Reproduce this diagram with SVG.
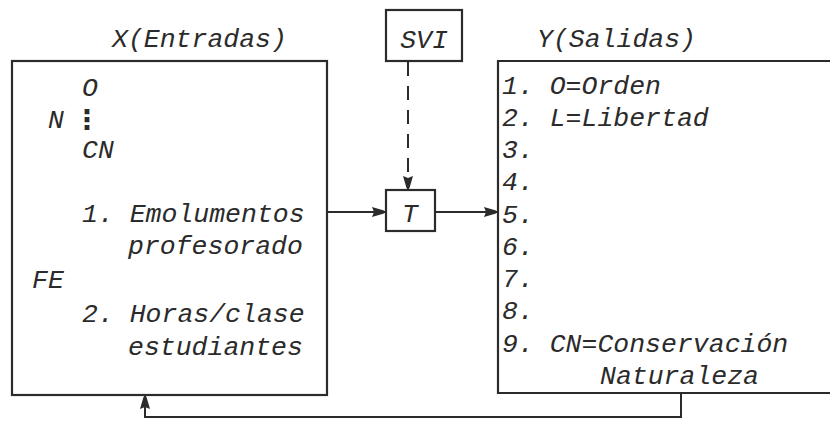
<svg xmlns="http://www.w3.org/2000/svg" width="830" height="421" viewBox="0 0 830 421">
<defs>
<style>
.box{fill:none;stroke:#2b2b2b;stroke-width:2.2}
.ln{fill:none;stroke:#2b2b2b;stroke-width:2}
.t{font-family:"Liberation Mono","DejaVu Sans Mono",monospace;font-style:italic;font-size:26.5px;fill:#2b2b2b}
.d{font-family:"DejaVu Sans",sans-serif;font-weight:bold;font-size:27px;fill:#2b2b2b}
</style>
<marker id="ah" viewBox="0 0 14 12" refX="13" refY="6" markerWidth="14" markerHeight="12" markerUnits="userSpaceOnUse" orient="auto">
<path d="M0,1 L12,4.5 L13,6 L12,7.5 L0,11 L2,6 Z" fill="#2b2b2b"/>
</marker>
</defs>
<rect width="830" height="421" fill="#ffffff"/>
<g id="connectors">
<line class="ln" x1="327" y1="212" x2="385" y2="212" marker-end="url(#ah)"/>
<line class="ln" x1="435" y1="212" x2="497" y2="212" marker-end="url(#ah)"/>
<line class="ln" x1="408" y1="62" x2="408" y2="189" stroke-width="2.4" stroke-dasharray="14 10" marker-end="url(#ah)"/>
<polyline class="ln" points="681,393 681,417 145,417 145,396" marker-end="url(#ah)"/>
</g>
<g id="entradas">
<rect class="box" x="12" y="61" width="315" height="334"/>
<text class="t" x="112" y="47">X(Entradas)</text>
<text class="t" x="82" y="96">O</text>
<text class="t" x="48" y="128">N</text>
<text class="d" x="87" y="129" text-anchor="middle">⋮</text>
<text class="t" x="82" y="158">CN</text>
<text class="t" x="82" y="222">1. Emolumentos</text>
<text class="t" x="128" y="254">profesorado</text>
<text class="t" x="32" y="288">FE</text>
<text class="t" x="82" y="322">2. Horas/clase</text>
<text class="t" x="128" y="355">estudiantes</text>
</g>
<g id="svi">
<rect class="box" x="386" y="10" width="76" height="51"/>
<text class="t" x="424" y="48" text-anchor="middle">SVI</text>
</g>
<g id="t">
<rect class="box" x="386" y="190" width="49" height="41"/>
<text class="t" x="410" y="222" text-anchor="middle">T</text>
</g>
<g id="salidas">
<polyline class="box" points="840,61 498,61 498,393 840,393"/>
<text class="t" x="537" y="47">Y(Salidas)</text>
<text class="t" x="502" y="94">1. O=Orden</text>
<text class="t" x="502" y="126">2. L=Libertad</text>
<text class="t" x="502" y="158">3.</text>
<text class="t" x="502" y="190">4.</text>
<text class="t" x="502" y="223">5.</text>
<text class="t" x="502" y="255">6.</text>
<text class="t" x="502" y="287">7.</text>
<text class="t" x="502" y="319">8.</text>
<text class="t" x="502" y="352">9. CN=Conservación</text>
<text class="t" x="600" y="384">Naturaleza</text>
</g>
</svg>
